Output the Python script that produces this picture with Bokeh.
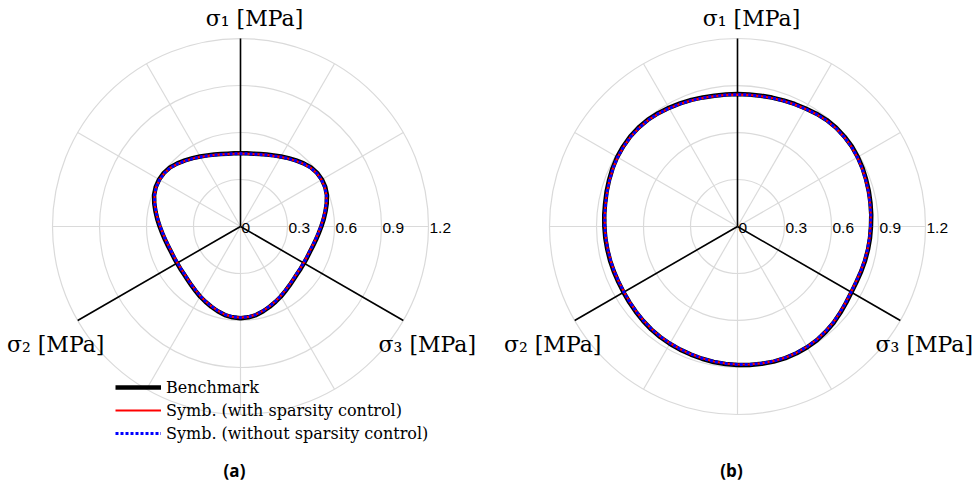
import numpy as np
from bokeh.plotting import figure
from bokeh.layouts import row
from bokeh.models import Label, Legend, LegendItem, ColumnDataSource
from bokeh.core.properties import value
from bokeh.embed import file_html
from bokeh.resources import INLINE

# ---------------- data ----------------
angles_deg = list(range(0, 360, 5))

# panel (a): radius [MPa] at each angle of the deviatoric plane
bench_a = [0.516, 0.533, 0.551, 0.570, 0.587, 0.597, 0.600, 0.597, 0.587, 0.570, 0.551, 0.533,
           0.516, 0.501, 0.489, 0.479, 0.472, 0.469, 0.468, 0.469, 0.472, 0.479, 0.489, 0.501,
           0.516, 0.533, 0.551, 0.570, 0.587, 0.597, 0.600, 0.597, 0.587, 0.570, 0.551, 0.533,
           0.516, 0.501, 0.489, 0.479, 0.472, 0.469, 0.468, 0.469, 0.472, 0.479, 0.489, 0.501,
           0.516, 0.530, 0.545, 0.560, 0.574, 0.582, 0.585, 0.582, 0.574, 0.560, 0.545, 0.530,
           0.516, 0.501, 0.489, 0.479, 0.472, 0.469, 0.468, 0.469, 0.472, 0.479, 0.489, 0.501]
with_a = [0.513, 0.530, 0.548, 0.567, 0.584, 0.594, 0.597, 0.594, 0.584, 0.567, 0.548, 0.530,
          0.513, 0.498, 0.486, 0.476, 0.469, 0.466, 0.465, 0.466, 0.469, 0.476, 0.486, 0.498,
          0.513, 0.530, 0.548, 0.567, 0.584, 0.594, 0.597, 0.594, 0.584, 0.567, 0.548, 0.530,
          0.513, 0.498, 0.486, 0.476, 0.469, 0.466, 0.465, 0.466, 0.469, 0.476, 0.486, 0.498,
          0.513, 0.527, 0.542, 0.557, 0.571, 0.579, 0.582, 0.579, 0.571, 0.557, 0.542, 0.527,
          0.513, 0.498, 0.486, 0.476, 0.469, 0.466, 0.465, 0.466, 0.469, 0.476, 0.486, 0.498]
without_a = [0.513, 0.530, 0.548, 0.567, 0.584, 0.594, 0.597, 0.594, 0.584, 0.567, 0.548, 0.530,
             0.513, 0.498, 0.486, 0.476, 0.469, 0.466, 0.465, 0.466, 0.469, 0.476, 0.486, 0.498,
             0.513, 0.530, 0.548, 0.567, 0.584, 0.594, 0.597, 0.594, 0.584, 0.567, 0.548, 0.530,
             0.513, 0.498, 0.486, 0.476, 0.469, 0.466, 0.465, 0.466, 0.469, 0.476, 0.486, 0.498,
             0.513, 0.527, 0.542, 0.557, 0.571, 0.579, 0.582, 0.579, 0.571, 0.557, 0.542, 0.527,
             0.513, 0.498, 0.486, 0.476, 0.469, 0.466, 0.465, 0.466, 0.469, 0.476, 0.486, 0.498]

# panel (b)
bench_b = [0.852, 0.857, 0.862, 0.868, 0.874, 0.881, 0.887, 0.891, 0.892, 0.891, 0.887, 0.879,
           0.870, 0.863, 0.857, 0.852, 0.848, 0.846, 0.845, 0.846, 0.848, 0.853, 0.860, 0.867,
           0.875, 0.883, 0.890, 0.893, 0.894, 0.891, 0.887, 0.880, 0.872, 0.865, 0.858, 0.854,
           0.850, 0.847, 0.844, 0.842, 0.840, 0.839, 0.840, 0.843, 0.847, 0.852, 0.857, 0.861,
           0.864, 0.867, 0.870, 0.874, 0.878, 0.881, 0.884, 0.887, 0.890, 0.893, 0.894, 0.893,
           0.890, 0.885, 0.877, 0.868, 0.857, 0.847, 0.840, 0.838, 0.840, 0.843, 0.846, 0.849]
with_b = [0.849, 0.854, 0.859, 0.865, 0.871, 0.878, 0.884, 0.888, 0.889, 0.888, 0.884, 0.876,
          0.867, 0.860, 0.854, 0.849, 0.845, 0.843, 0.842, 0.843, 0.845, 0.850, 0.857, 0.864,
          0.872, 0.880, 0.887, 0.890, 0.891, 0.888, 0.884, 0.877, 0.869, 0.862, 0.855, 0.851,
          0.847, 0.844, 0.841, 0.839, 0.837, 0.836, 0.837, 0.840, 0.844, 0.849, 0.854, 0.858,
          0.861, 0.864, 0.867, 0.871, 0.875, 0.878, 0.881, 0.884, 0.887, 0.890, 0.891, 0.890,
          0.887, 0.882, 0.874, 0.865, 0.854, 0.844, 0.837, 0.835, 0.837, 0.840, 0.843, 0.846]
without_b = [0.849, 0.854, 0.859, 0.865, 0.871, 0.878, 0.884, 0.888, 0.889, 0.888, 0.884, 0.876,
             0.867, 0.860, 0.854, 0.849, 0.845, 0.843, 0.842, 0.843, 0.845, 0.850, 0.857, 0.864,
             0.872, 0.880, 0.887, 0.890, 0.891, 0.888, 0.884, 0.877, 0.869, 0.862, 0.855, 0.851,
             0.847, 0.844, 0.841, 0.839, 0.837, 0.836, 0.837, 0.840, 0.844, 0.849, 0.854, 0.858,
             0.861, 0.864, 0.867, 0.871, 0.875, 0.878, 0.881, 0.884, 0.887, 0.890, 0.891, 0.890,
             0.887, 0.882, 0.874, 0.865, 0.854, 0.844, 0.837, 0.835, 0.837, 0.840, 0.843, 0.846]

ring_values = [0.3, 0.6, 0.9, 1.2]
ring_labels = ["0", "0.3", "0.6", "0.9", "1.2"]
ring_label_pos = [0.0, 0.3, 0.6, 0.9, 1.2]
spoke_angles = [0, 30, 60, 90, 120, 150, 180, 210, 240, 270, 300, 330]
axis_angles = [90, 210, 330]
axis_names = ["σ₁ [MPa]", "σ₂ [MPa]", "σ₃ [MPa]"]
series_names = ["Benchmark", "Symb. (with sparsity control)", "Symb. (without sparsity control)"]
captions = ["(a)", "(b)"]

SCALE = 188.0 / 1.2  # px per unit
H = 487
CY = 226.0
SERIF = "DejaVu Serif"


def to_xy(rs):
    th = np.deg2rad(np.array(angles_deg + [angles_deg[0]], dtype=float))
    r = np.array(list(rs) + [rs[0]], dtype=float)
    return r * np.cos(th), r * np.sin(th)


def make_panel(width, cx, bench, with_s, without_s, caption, legend):
    x0 = -cx / SCALE
    x1 = (width - cx) / SCALE
    y1 = CY / SCALE
    y0 = -(H - CY) / SCALE
    p = figure(width=width, height=H, x_range=(x0, x1), y_range=(y0, y1),
               output_backend="svg", toolbar_location=None, min_border=0,
               match_aspect=False)
    p.axis.visible = False
    p.grid.visible = False
    p.outline_line_color = None
    p.background_fill_color = "white"

    rmax = ring_values[-1]
    # rings
    p.circle(x=[0] * len(ring_values), y=[0] * len(ring_values), radius=ring_values,
             fill_color=None, line_color="#dadada", line_width=1.2)
    # spokes
    sa = np.deg2rad(np.array(spoke_angles, dtype=float))
    p.segment(x0=[0] * len(sa), y0=[0] * len(sa), x1=list(rmax * np.cos(sa)), y1=list(rmax * np.sin(sa)),
              line_color="#dadada", line_width=1.2)
    # principal stress axes
    aa = np.deg2rad(np.array(axis_angles, dtype=float))
    ax_x = rmax * np.cos(aa)
    ax_y = rmax * np.sin(aa)
    p.segment(x0=[0] * 3, y0=[0] * 3, x1=list(ax_x), y1=list(ax_y),
              line_color="black", line_width=1.6)

    bx, by = to_xy(bench)
    wx, wy = to_xy(with_s)
    ox, oy = to_xy(without_s)
    r1 = p.line(bx, by, line_color="black", line_width=4.5, line_join="round")
    r2 = p.line(wx, wy, line_color="#ff0000", line_width=2.2, line_join="round")
    r3 = p.line(ox, oy, line_color="#0000ff", line_width=3, line_dash="3 2")

    # ring tick labels
    src = ColumnDataSource(dict(x=ring_label_pos, y=[0] * len(ring_label_pos), t=ring_labels))
    p.text(x="x", y="y", text="t", source=src, x_offset=1, y_offset=1,
           text_font=value("Liberation Sans"), text_font_size="15.5px",
           text_baseline="middle", text_align="left", text_color="black")

    # axis names
    p.add_layout(Label(x=ax_x[0], y=ax_y[0], text=axis_names[0], text_align="center",
                       text_baseline="alphabetic", x_offset=14, y_offset=20, text_font=SERIF,
                       text_font_size="22px", text_color="black"))
    p.add_layout(Label(x=ax_x[1], y=ax_y[1], text=axis_names[1], text_align="center",
                       text_baseline="alphabetic", x_offset=-22, y_offset=-24, text_font=SERIF,
                       text_font_size="22px", text_color="black"))
    p.add_layout(Label(x=ax_x[2], y=ax_y[2], text=axis_names[2], text_align="center",
                       text_baseline="alphabetic", x_offset=24, y_offset=-24, text_font=SERIF,
                       text_font_size="22px", text_color="black"))
    # caption
    p.add_layout(Label(x=0, y=H - 470, y_units="screen", x_offset=-6, text=caption, text_align="center",
                       text_baseline="middle", text_font="Open Sans", text_font_style="bold",
                       text_font_size="17px", text_color="black"))

    if legend:
        leg = Legend(items=[LegendItem(label=series_names[0], renderers=[r1]),
                            LegendItem(label=series_names[1], renderers=[r2]),
                            LegendItem(label=series_names[2], renderers=[r3])],
                     location=(115, 44), padding=0, margin=0, spacing=3,
                     glyph_width=46, glyph_height=20, label_height=20,
                     label_standoff=5, label_text_font=SERIF, label_text_font_size="16px",
                     label_text_color="black",
                     border_line_alpha=0, background_fill_alpha=0)
        p.add_layout(leg)
    return p


pa = make_panel(487, 240.0, bench_a, with_a, without_a, captions[0], True)
pb = make_panel(488, 250.0, bench_b, with_b, without_b, captions[1], False)

layout = row(pa, pb, spacing=0)
open("out.html", "w").write(file_html(layout, INLINE))
